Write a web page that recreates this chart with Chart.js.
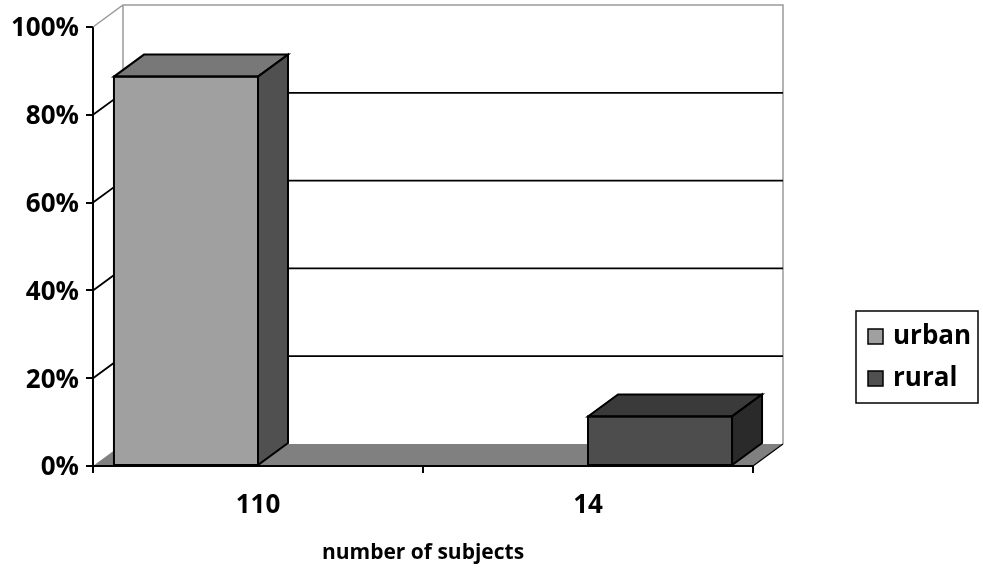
<!DOCTYPE html>
<html>
<head>
<meta charset="utf-8">
<script src="https://cdn.jsdelivr.net/npm/chart.js@4.4.1/dist/chart.umd.min.js"></script>
<style>
  html, body { margin: 0; padding: 0; background: #ffffff; }
  #wrap { width: 983px; height: 571px; }
</style>
</head>
<body>
<div id="wrap"><canvas id="c" width="983" height="571"></canvas></div>
<script>
// Share of subjects by residence, grouped by subject count
const categories = ['110', '14'];
const urbanShare = [88.7, 0];
const ruralShare = [0, 11.3];
const seriesNames = ['urban', 'rural'];
const yTicks = [0, 20, 40, 60, 80, 100];

// depth of the pseudo-3D walls and bars
const DX = 30, DY = -22;
const FONT = '"Open Sans", "Noto Sans", sans-serif';

const faces = [
  { front: '#a0a0a0', top: '#787878', side: '#505050', key: '#a0a0a0' },
  { front: '#4d4d4d', top: '#3a3a3a', side: '#2a2a2a', key: '#505050' }
];

function poly(ctx, pts, fill, stroke, lw) {
  ctx.beginPath();
  ctx.moveTo(pts[0][0], pts[0][1]);
  for (let i = 1; i < pts.length; i++) ctx.lineTo(pts[i][0], pts[i][1]);
  ctx.closePath();
  if (fill) { ctx.fillStyle = fill; ctx.fill(); }
  if (stroke) { ctx.strokeStyle = stroke; ctx.lineWidth = lw || 1; ctx.lineJoin = 'miter'; ctx.stroke(); }
}

const wallPlugin = {
  id: 'wall3d',
  beforeDatasetsDraw(chart) {
    const { ctx, chartArea: a, scales } = chart;
    const y = scales.y;
    ctx.save();
    // back wall frame
    ctx.strokeStyle = '#9a9a9a';
    ctx.lineWidth = 1.5;
    ctx.beginPath();
    ctx.moveTo(a.left, y.getPixelForValue(100));
    ctx.lineTo(a.left + DX, y.getPixelForValue(100) + DY);
    ctx.lineTo(a.right + DX, y.getPixelForValue(100) + DY);
    ctx.lineTo(a.right + DX, y.getPixelForValue(0) + DY);
    ctx.moveTo(a.left + DX, y.getPixelForValue(100) + DY);
    ctx.lineTo(a.left + DX, y.getPixelForValue(0) + DY);
    ctx.stroke();
    // back-wall gridlines and their side-wall diagonals
    ctx.strokeStyle = '#000000';
    ctx.lineWidth = 1.8;
    yTicks.forEach(v => {
      if (v === 0 || v === 100) return;
      const py = y.getPixelForValue(v);
      ctx.beginPath();
      ctx.moveTo(a.left, py);
      ctx.lineTo(a.left + DX, py + DY);
      ctx.lineTo(a.right + DX, py + DY);
      ctx.stroke();
    });
    // floor
    const by = y.getPixelForValue(0);
    poly(ctx, [[a.left, by], [a.right, by], [a.right + DX, by + DY], [a.left + DX, by + DY]], '#808080');
    ctx.strokeStyle = '#000000';
    ctx.lineWidth = 1.2;
    ctx.beginPath();
    ctx.moveTo(a.right, by);
    ctx.lineTo(a.right + DX, by + DY);
    ctx.stroke();
    ctx.lineWidth = 2;
    ctx.beginPath();
    ctx.moveTo(a.left, by);
    ctx.lineTo(a.right, by);
    ctx.stroke();
    ctx.restore();
  },
  afterDatasetsDraw(chart) {
    const { ctx } = chart;
    ctx.save();
    chart.data.datasets.forEach((ds, di) => {
      const meta = chart.getDatasetMeta(di);
      meta.data.forEach((bar, i) => {
        if (!ds.data[i]) return;
        const p = bar.getProps(['x', 'y', 'base', 'width'], true);
        const l = p.x - p.width / 2, r = p.x + p.width / 2;
        const c = faces[di];
        poly(ctx, [[l, p.y], [r, p.y], [r + DX, p.y + DY], [l + DX, p.y + DY]], c.top, '#000', 2);
        poly(ctx, [[r, p.y], [r + DX, p.y + DY], [r + DX, p.base + DY], [r, p.base]], c.side, '#000', 2);
        ctx.strokeStyle = '#000';
        ctx.lineWidth = 2;
        ctx.strokeRect(l, p.y, p.width, p.base - p.y);
      });
    });
    ctx.restore();
  },
  afterDraw(chart) {
    const { ctx } = chart;
    ctx.save();
    // legend box
    const bx = 856, bw = 122, byTop = 311, bh = 92;
    ctx.strokeStyle = '#000';
    ctx.lineWidth = 1.5;
    ctx.strokeRect(bx, byTop, bw, bh);
    ctx.font = 'bold 26px ' + FONT;
    ctx.textBaseline = 'middle';
    ctx.textAlign = 'left';
    chart.data.datasets.forEach((ds, di) => {
      const cy = 337 + di * 42;
      ctx.fillStyle = faces[di].key;
      ctx.fillRect(868, cy - 8, 15, 15);
      ctx.lineWidth = 1.5;
      ctx.strokeRect(868, cy - 8, 15, 15);
      ctx.fillStyle = '#000';
      ctx.fillText(ds.label, 893, cy);
    });
    ctx.restore();
  }
};

new Chart(document.getElementById('c'), {
  type: 'bar',
  data: {
    labels: categories,
    datasets: [
      { label: seriesNames[0], data: urbanShare, backgroundColor: faces[0].front, borderWidth: 0 },
      { label: seriesNames[1], data: ruralShare, backgroundColor: faces[1].front, borderWidth: 0 }
    ]
  },
  options: {
    responsive: false,
    animation: false,
    layout: { padding: { left: 0, top: 27, right: 230, bottom: 0 } },
    datasets: { bar: { categoryPercentage: 0.873, barPercentage: 1 } },
    plugins: { legend: { display: false }, tooltip: { enabled: false } },
    scales: {
      x: {
        afterFit(s) { s.height = 105; },
        grid: { offset: true, drawOnChartArea: false, tickLength: 7, color: '#000', lineWidth: 2 },
        border: { display: true, color: '#000', width: 2 },
        ticks: { color: '#000', padding: 17, font: { family: FONT, size: 26, weight: 'bold' } },
        title: {
          display: true, text: 'number of subjects', color: '#000',
          font: { family: FONT, size: 21, weight: 'bold' }, padding: { top: 0, bottom: 5 }
        }
      },
      y: {
        min: 0, max: 100,
        afterFit(s) { s.width = 93; },
        afterBuildTicks(s) { s.ticks = yTicks.map(v => ({ value: v })); },
        grid: { drawOnChartArea: false, tickLength: 7, color: '#000', lineWidth: 2 },
        border: { display: true, color: '#000', width: 2 },
        ticks: {
          color: '#000', padding: 7, labelOffset: 2,
          font: { family: FONT, size: 26, weight: 'bold' },
          callback: v => v + '%'
        }
      }
    }
  },
  plugins: [wallPlugin]
});
</script>
</body>
</html>
